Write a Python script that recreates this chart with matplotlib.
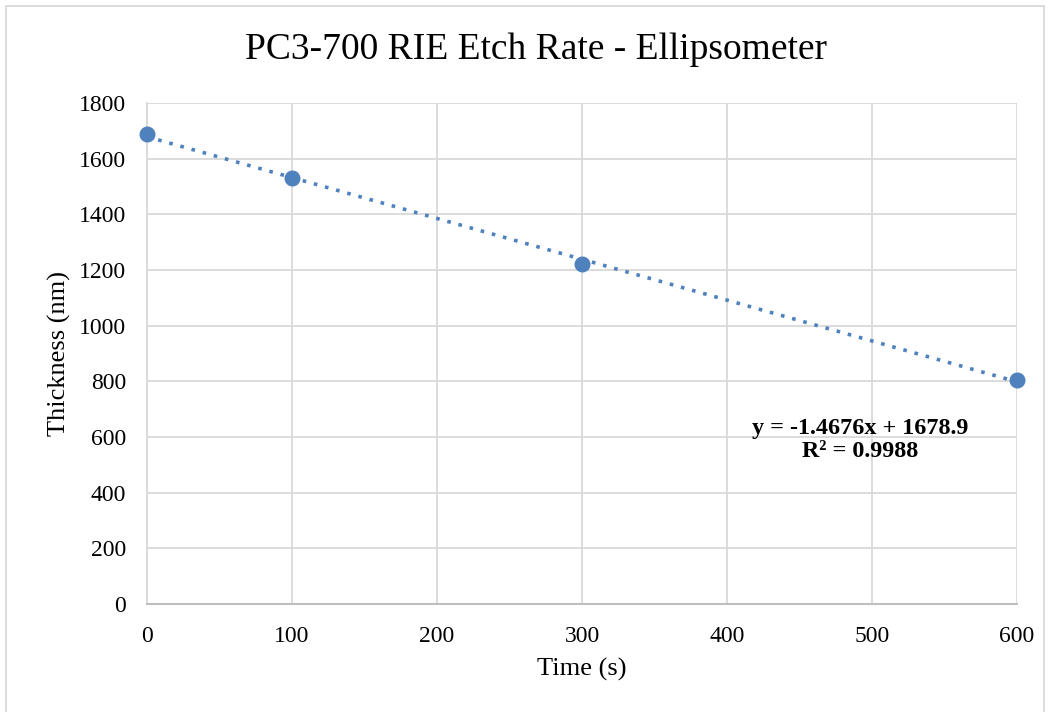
import numpy as np
import matplotlib.pyplot as plt
from matplotlib.patches import Rectangle

plt.rcParams['font.family'] = ['Liberation Serif', 'DejaVu Serif']

# data
time_s = [0, 100, 300, 600]
thickness_nm = [1690, 1530, 1220, 805]
slope, intercept = -1.4676, 1678.9
r2 = 0.9988

blue = '#4f81bd'
grid_col = '#d9d9d9'

fig = plt.figure(figsize=(10.5, 7.12), dpi=100)
ax = fig.add_axes([0.14, 0.1517, 0.8286, 0.7036])

# outer chart border
fig.patches.append(Rectangle((6/1050, -0.05), 1038/1050, 1.05 - 6/712,
                             transform=fig.transFigure, fill=False,
                             edgecolor=grid_col, linewidth=1.3))

xfit = np.array([0, 600])
ax.plot(xfit, slope*xfit + intercept, linestyle=(0, (1, 2.2)), color=blue,
        linewidth=2.6, zorder=3)
ax.plot(time_s, thickness_nm, 'o', color=blue, markersize=10.5, zorder=4,
        clip_on=False)

ax.set_xlim(0, 600)
ax.set_ylim(0, 1800)
ax.set_xticks(np.arange(0, 601, 100))
ax.set_yticks(np.arange(0, 1801, 200))
ax.grid(True, color=grid_col, linewidth=1.3)
ax.set_axisbelow(True)
for s in ['top', 'right']:
    ax.spines[s].set_visible(False)
ax.spines['left'].set_color(grid_col)
ax.spines['bottom'].set_color('#bfbfbf')
ax.spines['left'].set_linewidth(1.3)
ax.spines['bottom'].set_linewidth(1.5)
ax.tick_params(axis='x', length=0, labelsize=17, pad=16)
ax.tick_params(axis='y', length=0, labelsize=17, pad=15)

ax.set_xlabel('Time (s)', fontsize=19, labelpad=8)
ax.set_ylabel('Thickness (nm)', fontsize=19, labelpad=6)
fig.text(536/1050, 1 - 50/712, 'PC3-700 RIE Etch Rate - Ellipsometer',
         fontsize=27, ha='center', va='center')

ax.text(492, 590, f'y = {slope}x + {intercept}\nR\u00b2 = {r2}',
        fontsize=17.4, fontweight='bold', ha='center', va='center',
        linespacing=1.15)

fig.savefig('out.png')
